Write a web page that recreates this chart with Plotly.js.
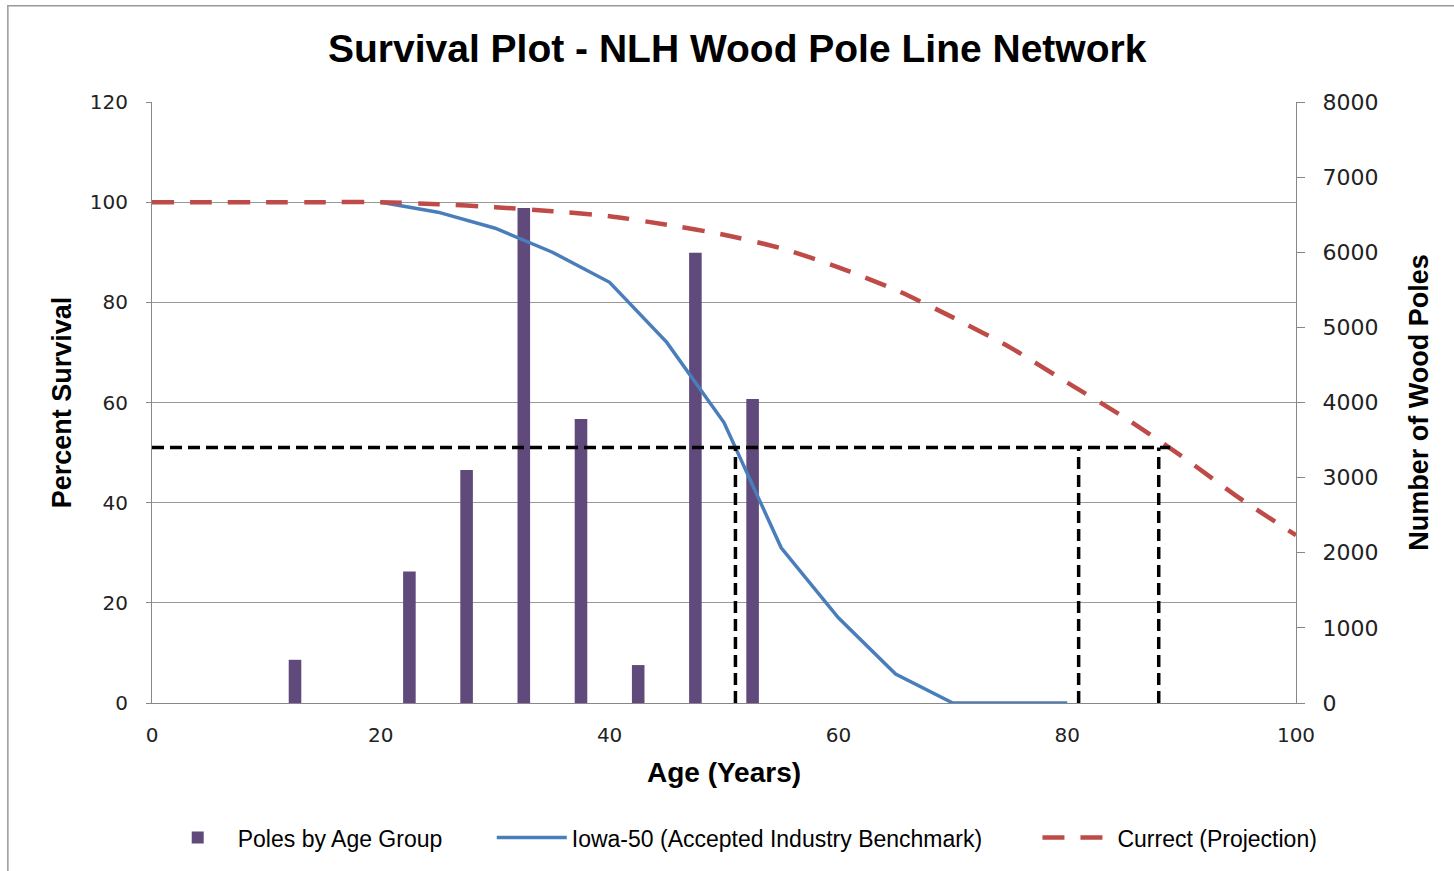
<!DOCTYPE html>
<html>
<head>
<meta charset="utf-8">
<script src="https://cdn.plot.ly/plotly-3.0.1.min.js"></script>
<style>html,body{margin:0;padding:0;background:#fff;}#chart{width:1454px;height:871px;}</style>
</head>
<body>
<div id="chart"></div>
<script>
// Poles by age group (right axis, number of poles)
const ageGroupMid = [12.5, 22.5, 27.5, 32.5, 37.5, 42.5, 47.5, 52.5];
const polesCount = [575, 1750, 3100, 6590, 3780, 505, 5995, 4045];

// Iowa-50 survival curve (percent)
const iowaAge = [20, 25, 30, 35, 40, 45, 50, 55, 60, 65, 70, 75, 80];
const iowaSurvival = [100, 98, 94.8, 90, 84, 72, 56, 31, 17, 5.8, 0, 0, 0];

// Current projection (percent)
const projAge = [0, 5, 10, 15, 20, 25, 30, 35, 40, 45, 50, 55, 60, 65, 70, 75, 80, 85, 90, 95, 100];
const projSurvival = [100, 100, 100, 100, 100, 99.6, 99, 98.2, 97.2, 95.5, 93.5, 90.8, 87, 82.5, 77, 71, 64, 57, 49.3, 41, 33.5];

// Reference (black dashed) lines
const refLevel = 51;
const refEndAge = 89;
const refCrossAges = [51, 81, 88];

const refX = [0, refEndAge, null];
const refY = [refLevel, refLevel, null];
refCrossAges.forEach(a => { refX.push(a, a, null); refY.push(0, refLevel, null); });

const calibri = '"Liberation Sans", Arial, sans-serif';
const verd = '"DejaVu Sans", Verdana, sans-serif';

const traces = [
  {
    type: 'bar', name: 'Poles by Age Group', legend: 'legend',
    x: ageGroupMid, y: polesCount, yaxis: 'y', width: 1.1,
    marker: {color: '#604A7B'}
  },
  {
    type: 'scatter', mode: 'lines', name: 'Iowa-50 (Accepted Industry Benchmark)', legend: 'legend2',
    x: iowaAge, y: iowaSurvival, yaxis: 'y2',
    line: {color: '#4A7EBB', width: 3.5}
  },
  {
    type: 'scatter', mode: 'lines', name: 'Currect (Projection)', legend: 'legend3',
    x: projAge, y: projSurvival, yaxis: 'y2', line: {shape: 'spline', smoothing: 0.6, color: '#BE4B48', width: 4.5, dash: '22px,16px'}
  },
  {
    type: 'scatter', mode: 'lines', showlegend: false,
    x: refX, y: refY, yaxis: 'y2', connectgaps: false,
    line: {color: '#000', width: 3.5, dash: '12px,6px'}
  }
];

const legFont = {family: calibri, size: 23, color: '#000'};
const legBase = {orientation: 'h', xanchor: 'left', y: -0.224, yanchor: 'middle', font: legFont, itemwidth: 70, bgcolor: 'rgba(0,0,0,0)'};

const layout = {
  width: 1454, height: 871,
  margin: {l: 152, r: 158, t: 102, b: 166},
  paper_bgcolor: '#fff', plot_bgcolor: '#fff',
  showlegend: true,
  title: {text: '<b>Survival Plot - NLH Wood Pole Line Network</b>', x: 0.507, xanchor: 'center', y: 0.945, yanchor: 'middle',
          font: {family: calibri, size: 39, color: '#000'}},
  xaxis: {
    range: [0, 100], dtick: 20, tick0: 0, showgrid: false, zeroline: false,
    showline: true, linecolor: '#888', linewidth: 1, ticks: '',
    tickfont: {family: verd, size: 20, color: '#222'}, ticklabelstandoff: 14,
    title: {text: '<b>Age (Years)</b>', font: {family: calibri, size: 28, color: '#000'}, standoff: 16}
  },
  yaxis: {
    range: [0, 8000], dtick: 1000, side: 'right', showgrid: false, zeroline: false,
    showline: true, linecolor: '#888', linewidth: 1, ticks: 'outside', ticklen: 8, tickcolor: '#888',
    tickfont: {family: verd, size: 22, color: '#222'}, ticklabelstandoff: 13,
    title: {text: '<b>Number of Wood Poles</b>', font: {family: calibri, size: 27, color: '#000'}, standoff: 31}
  },
  yaxis2: {
    overlaying: 'y', side: 'left', range: [0, 120], dtick: 20, showgrid: true, gridcolor: '#999', gridwidth: 1,
    zeroline: false, showline: true, linecolor: '#888', linewidth: 1, ticks: 'outside', ticklen: 5, tickcolor: '#888',
    tickfont: {family: verd, size: 20, color: '#222'}, ticklabelstandoff: 14,
    title: {text: '<b>Percent Survival</b>', font: {family: calibri, size: 27, color: '#000'}, standoff: 10}
  },
  legend: Object.assign({}, legBase, {x: 0.005}),
  legend2: Object.assign({}, legBase, {x: 0.297}),
  legend3: Object.assign({}, legBase, {x: 0.774}),
  shapes: [
    {type: 'rect', xref: 'paper', yref: 'paper', x0: -0.126, x1: 1.3, y0: -0.4, y1: 1.16,
     line: {color: '#999', width: 1.5}, fillcolor: 'rgba(0,0,0,0)', layer: 'below'}
  ]
};

Plotly.newPlot('chart', traces, layout, {displayModeBar: false, responsive: false});
</script>
</body>
</html>
